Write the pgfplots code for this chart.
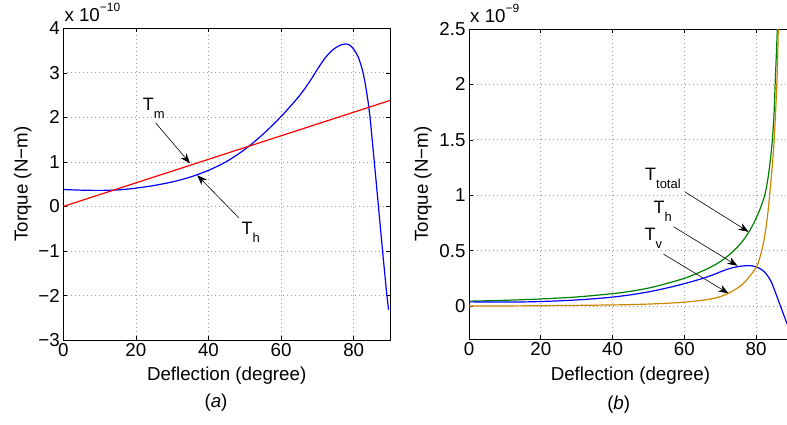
\documentclass[border=0pt]{standalone}
\usepackage{fontspec}
\setmainfont{Liberation Sans}
\usepackage{pgfplots}
\pgfplotsset{compat=1.18}
\usetikzlibrary{arrows.meta}
\definecolor{mgreen}{rgb}{0,0.5,0}
\definecolor{morange}{rgb}{0.8,0.53,0.0}
\newcommand{\lbl}{\fontsize{18.8}{22}\selectfont}
\newcommand{\sub}[1]{\raisebox{-8bp}{\fontsize{13}{15}\selectfont #1}}
\pgfplotsset{
  mstyle/.style={
    scale only axis,
    anchor=south west,
    axis line style={black, line width=0.9bp},
    tick style={black, line width=0.6bp},
    major tick length=4bp,
    grid=major,
    grid style={gray!75, line width=0.7bp, dash pattern=on 0.8bp off 3.2bp},
    tick label style={font=\lbl},
    label style={font=\lbl},
    /pgf/number format/assume math mode=true,
    scaled ticks=false,
    xmin=0, xmax=90,
    xtick={0,20,40,60,80},
    xlabel={Deflection (degree)},
    ylabel={Torque (N−m)},
    xlabel style={at={(axis description cs:0.5,0)}, anchor=north, yshift=-27bp, inner sep=0pt},
  },
  crv/.style={line width=1.2bp, smooth, tension=0.5},
}
\tikzset{
  arr/.style={-{Stealth[length=10bp,width=7.5bp]}, line width=0.6bp, black},
  ann/.style={anchor=base west, inner sep=0pt, font=\fontsize{18}{21}\selectfont},
}
\begin{document}
\begin{tikzpicture}
\useasboundingbox (0,0) rectangle (787bp,-425bp);
\begin{axis}[mstyle, name=L,
  at={(63.3bp,-340bp)}, width=326.7bp, height=311.7bp,
  ymin=-3, ymax=4,
  ytick={-3,-2,-1,0,1,2,3,4},
  yticklabels={−3,−2,−1,0,1,2,3,4},
  ylabel style={at={(axis description cs:-0.097,0.5)}, anchor=south, inner sep=0pt},
]
\addplot[blue, crv] coordinates {
(0,0.38) (5,0.365) (10,0.36) (15,0.37) (20,0.41) (25,0.47) (30,0.55) (35,0.66)
(40,0.81) (45,1.01) (50,1.28) (55,1.62) (60,2.02) (65,2.48) (68,2.82) (70,3.08)
(72,3.32) (74,3.50) (76,3.61) (77,3.64) (78,3.65) (79,3.62) (80,3.53) (80.5,3.47)
(81,3.40) (81.5,3.30) (82,3.18) (82.5,3.03) (83,2.84) (83.5,2.60) (84,2.33)
(84.5,2.00) (85,1.58) (85.5,1.15) (86,0.72) (86.5,0.28) (87,-0.16) (87.5,-0.60)
(88,-1.04) (88.5,-1.46) (89,-1.88) (89.6,-2.32)
};
\addplot[red, line width=1.2bp] coordinates {(0,0) (90,2.38)};
\draw[arr] (axis cs:25.5,1.87) -- (axis cs:34.9,0.97);
\node[ann] at (axis cs:21.9,2.165) {T\sub{m}};
\draw[arr] (axis cs:48.4,-0.26) -- (axis cs:36.9,0.70);
\node[ann] at (axis cs:49.1,-0.64) {T\sub{h}};
\end{axis}
\node[anchor=base west, inner sep=0pt, font=\lbl] at ([xshift=1bp, yshift=6.6bp]L.north west) {x 10\raisebox{10.5bp}{\fontsize{12}{14}\selectfont −10}};
\node[anchor=base, inner sep=0pt, font=\lbl] at (216bp,-407.5bp) {(\textit{a})};

\begin{axis}[mstyle, name=R,
  at={(469bp,-339.3bp)}, width=322.9bp, height=310.3bp,
  ymin=-0.3, ymax=2.5,
  ytick={0,0.5,1,1.5,2,2.5},
  ylabel style={at={(axis description cs:-0.1146,0.5)}, anchor=south, inner sep=0pt},
]
\addplot[mgreen, crv] coordinates {
(0,0.044) (10,0.052) (20,0.064) (30,0.082) (40,0.112) (45,0.133) (50,0.162)
(55,0.203) (60,0.250) (65,0.315) (68,0.362) (70,0.400) (72,0.448) (74,0.505)
(76,0.575) (78,0.668) (79,0.725) (80,0.790) (81,0.865) (82,0.955) (82.5,1.01)
(83,1.09) (83.5,1.19) (84,1.32) (84.5,1.48) (85,1.72) (85.3,1.98) (85.6,2.22)
(85.9,2.47) (86.1,2.68) (86.3,2.9)
};
\addplot[blue, crv] coordinates {
(0,0.038) (5,0.0365) (10,0.036) (15,0.037) (20,0.041) (25,0.047) (30,0.055)
(35,0.066) (40,0.081) (45,0.101) (50,0.128) (55,0.162) (60,0.202) (65,0.248)
(68,0.282) (70,0.308) (72,0.332) (74,0.350) (76,0.361) (77,0.364) (78,0.365)
(79,0.362) (80,0.353) (80.5,0.347) (81,0.340) (81.5,0.330) (82,0.318)
(82.5,0.303) (83,0.284) (83.5,0.260) (84,0.233) (84.5,0.200) (85,0.158)
(85.5,0.115) (86,0.072) (86.5,0.028) (87,-0.016) (87.5,-0.060) (88,-0.104)
(88.5,-0.146) (89,-0.188) (89.6,-0.232)
};
\addplot[morange, crv] coordinates {
(0,0.000) (10,0.001) (20,0.003) (30,0.006) (40,0.010) (45,0.013) (50,0.018)
(55,0.025) (60,0.035) (65,0.052) (68,0.068) (70,0.085) (72,0.110) (74,0.145)
(76,0.19) (77,0.22) (78,0.26) (79,0.30) (80,0.345) (80.5,0.38) (81,0.43)
(81.5,0.49) (82,0.56) (82.5,0.65) (83,0.76) (83.5,0.90) (84,1.07) (84.5,1.25)
(85,1.47) (85.5,1.78) (85.8,2.0) (86,2.2) (86.2,2.5) (86.5,2.9)
};
\draw[arr] (axis cs:60.2,1.03) -- (axis cs:77.9,0.67);
\node[ann] at (axis cs:49.06,1.137) {T\sub{total}};
\draw[arr] (axis cs:57.0,0.716) -- (axis cs:74.8,0.364);
\node[ann] at (axis cs:51.4,0.837) {T\sub{h}};
\draw[arr] (axis cs:54.2,0.469) -- (axis cs:72.3,0.115);
\node[ann] at (axis cs:48.9,0.59) {T\sub{v}};
\end{axis}
\node[anchor=base west, inner sep=0pt, font=\lbl] at ([xshift=1bp, yshift=6.5bp]R.north west) {x 10\raisebox{10.5bp}{\fontsize{12}{14}\selectfont −9}};
\node[anchor=base, inner sep=0pt, font=\lbl] at (618.7bp,-409.5bp) {(\textit{b})};
\end{tikzpicture}
\end{document}
